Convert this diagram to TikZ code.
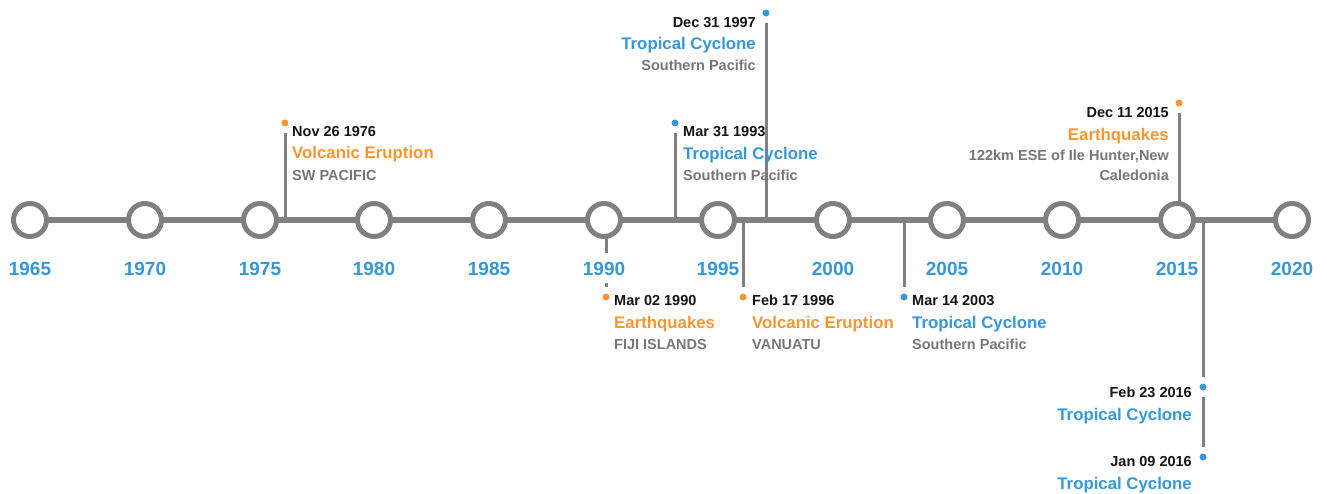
\documentclass[tikz,border=0pt]{standalone}
\usepackage{fontspec}
\setmainfont{Liberation Sans}
\usetikzlibrary{backgrounds}
\definecolor{tlgray}{RGB}{128,128,128}
\definecolor{tlblue}{RGB}{52,152,219}
\definecolor{tlorange}{RGB}{250,150,50}
\definecolor{tlloc}{RGB}{119,119,119}
\definecolor{tldate}{RGB}{20,20,20}
\begin{document}
\begin{tikzpicture}[x=1pt,y=-1pt,
  ring/.style={circle,draw=tlgray,line width=5pt,fill=white,minimum size=33pt,inner sep=0pt},
  evdot/.style={circle,inner sep=0pt,minimum size=7pt,outer sep=6.5pt,fill=#1},
  axisline/.style={draw=tlgray,line width=6pt},
  stemline/.style={draw=tlgray,line width=3pt},
  yeartxt/.style={font=\fontsize{19}{21}\selectfont\bfseries,text=tlblue,fill=white,text height=13.6pt,text depth=0pt,inner xsep=0pt,inner ysep=8pt,anchor=base},
  datetxt/.style={font=\fontsize{14.5}{16}\selectfont\bfseries,text=tldate,inner sep=0pt},
  cattxt/.style={font=\fontsize{16.8}{19}\selectfont\bfseries,text=#1,inner sep=0pt},
  loctxt/.style={font=\fontsize{14.5}{16}\selectfont\bfseries,text=tlloc,inner sep=0pt},
]
\useasboundingbox (0,0) rectangle (1327,493);

% timeline circles
\foreach \yr/\x in {1965/30,1970/145,1975/260,1980/374,1985/489,1990/604,1995/718,2000/833,2005/947,2010/1062,2015/1177,2020/1292}{
  \node[ring] (c\yr) at (\x,220) {};
}

% axis points for stems
\coordinate (a1) at (285,220);
\coordinate (a2) at (675,220);
\coordinate (a3) at (766,220);
\coordinate (a4) at (606,220);
\coordinate (a5) at (743,220);
\coordinate (a6) at (904,220);
\coordinate (a7) at (1179,220);
\coordinate (a8) at (1203,220);

% event dots
\node[evdot=tlorange] (d1) at (285,123) {};
\node[evdot=tlblue]   (d2) at (675,123) {};
\node[evdot=tlblue]   (d3) at (766,13) {};
\node[evdot=tlorange] (d4) at (606,297) {};
\node[evdot=tlorange] (d5) at (743,297) {};
\node[evdot=tlblue]   (d6) at (904,297) {};
\node[evdot=tlorange] (d7) at (1179,103) {};
\node[evdot=tlblue]   (d8) at (1203,387) {};
\node[evdot=tlblue]   (d9) at (1203,457) {};

\begin{pgfonlayer}{background}
  \draw[axisline] (c1965.center) -- (c2020.center);
  \draw[stemline] (d1) -- (a1);
  \draw[stemline] (d2) -- (a2);
  \draw[stemline] (d3) -- (a3);
  \draw[stemline] (d4) -- (a4);
  \draw[stemline] (d5) -- (a5);
  \draw[stemline] (d6) -- (a6);
  \draw[stemline] (d7) -- (a7);
  \draw[stemline] (d8) -- (a8);
  \draw[stemline] (d8) -- (d9);
\end{pgfonlayer}

% year labels
\foreach \yr/\x in {1965/30,1970/145,1975/260,1980/374,1985/489,1990/604,1995/718,2000/833,2005/947,2010/1062,2015/1177,2020/1292}{
  \node[yeartxt] (y\yr) at (\x,275) {\yr};
}

% event 1
\node[datetxt,anchor=base west] (t1) at (292,136.7) {Nov 26 1976};
\node[cattxt=tlorange,anchor=base west] (k1) at (292,158.5) {Volcanic Eruption};
\node[loctxt,anchor=base west] (l1) at (292,180) {SW PACIFIC};
% event 2
\node[datetxt,anchor=base west] (t2) at (683,136.7) {Mar 31 1993};
\node[cattxt=tlblue,anchor=base west] (k2) at (683,159) {Tropical Cyclone};
\node[loctxt,anchor=base west] (l2) at (683,180) {Southern Pacific};
% event 3
\node[datetxt,anchor=base east] (t3) at (756,27.3) {Dec 31 1997};
\node[cattxt=tlblue,anchor=base east] (k3) at (756,49.5) {Tropical Cyclone};
\node[loctxt,anchor=base east] (l3) at (756,70) {Southern Pacific};
% event 4
\node[datetxt,anchor=base west] (t4) at (614,305) {Mar 02 1990};
\node[cattxt=tlorange,anchor=base west] (k4) at (614,328.3) {Earthquakes};
\node[loctxt,anchor=base west] (l4) at (614,349.3) {FIJI ISLANDS};
% event 5
\node[datetxt,anchor=base west] (t5) at (752,305) {Feb 17 1996};
\node[cattxt=tlorange,anchor=base west] (k5) at (752,328.3) {Volcanic Eruption};
\node[loctxt,anchor=base west] (l5) at (752,349.3) {VANUATU};
% event 6
\node[datetxt,anchor=base west] (t6) at (912,305) {Mar 14 2003};
\node[cattxt=tlblue,anchor=base west] (k6) at (912,328.3) {Tropical Cyclone};
\node[loctxt,anchor=base west] (l6) at (912,349.3) {Southern Pacific};
% event 7
\node[datetxt,anchor=base east] (t7) at (1169,117.3) {Dec 11 2015};
\node[cattxt=tlorange,anchor=base east] (k7) at (1169,140) {Earthquakes};
\node[loctxt,anchor=base east] (l7) at (1169,160) {122km ESE of Ile Hunter,New};
\node[loctxt,anchor=base east] (m7) at (1169,180) {Caledonia};
% event 8
\node[datetxt,anchor=base east] (t8) at (1192,397.3) {Feb 23 2016};
\node[cattxt=tlblue,anchor=base east] (k8) at (1192,420) {Tropical Cyclone};
% event 9
\node[datetxt,anchor=base east] (t9) at (1192,466.7) {Jan 09 2016};
\node[cattxt=tlblue,anchor=base east] (k9) at (1192,489.3) {Tropical Cyclone};
\end{tikzpicture}
\end{document}
